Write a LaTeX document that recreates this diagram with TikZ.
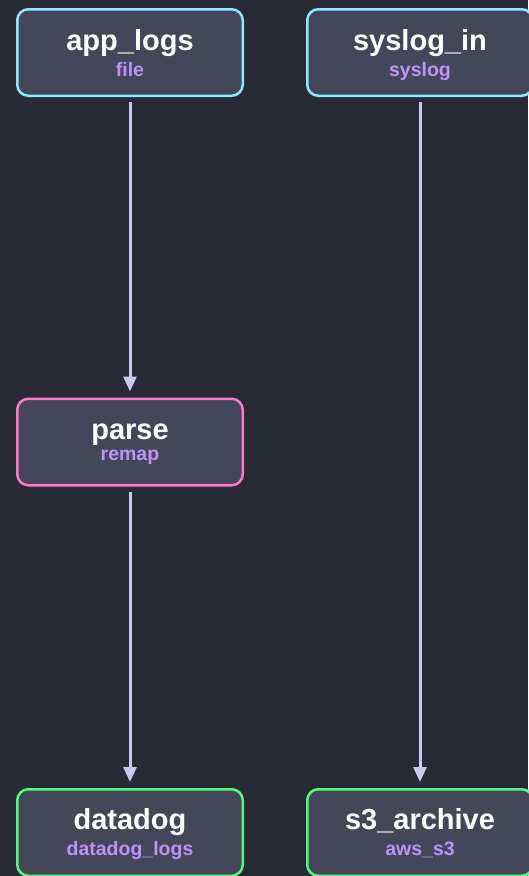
\documentclass[tikz,border=0pt]{standalone}
\usepackage{fontspec}
\setmainfont{Liberation Sans}
\usetikzlibrary{arrows.meta}

\definecolor{fons}{HTML}{282A36}
\definecolor{caixafons}{HTML}{44475A}
\definecolor{cian}{HTML}{8BE9FD}
\definecolor{rosa}{HTML}{FF79C6}
\definecolor{verd}{HTML}{50FA7B}
\definecolor{lila}{HTML}{BD93F9}
\definecolor{fletxacol}{HTML}{C9C9EC}

\tikzset{
    caixa/.style={
        rectangle,
        rounded corners=11pt,
        line width=2.5pt,
        fill=caixafons,
        minimum width=225.5pt,
        minimum height=86.5pt,
        inner sep=0pt
    },
    titol/.style={
        anchor=base,
        inner sep=0pt,
        text=white,
        font=\fontsize{29}{30}\selectfont\bfseries
    },
    subtitol/.style={
        anchor=base,
        inner sep=0pt,
        text=lila,
        font=\fontsize{19.5}{20}\selectfont\bfseries
    },
    fletxa/.style={
        -{Triangle[length=15pt,width=13pt]},
        line width=3pt,
        fletxacol,
        shorten <=5pt,
        shorten >=6pt
    }
}

\begin{document}
\begin{tikzpicture}[x=1pt, y=-1pt]

% Fons
\fill[fons] (0,0) rectangle (528,876);
\useasboundingbox (0,0) rectangle (528,876);

% Fonts
\node[caixa, draw=cian] (app) at (130,52.5) {};
\node[titol] (app-t) at (130,50) {app\_logs};
\node[subtitol] (app-s) at (130,76) {file};

\node[caixa, draw=cian] (syslog) at (420,52.5) {};
\node[titol] (syslog-t) at (420,50) {syslog\_in};
\node[subtitol] (syslog-s) at (420,76) {syslog};

% Transformacio
\node[caixa, draw=rosa] (parse) at (130,442) {};
\node[titol] (parse-t) at (130,439) {parse};
\node[subtitol] (parse-s) at (130,460) {remap};

% Destins
\node[caixa, draw=verd] (datadog) at (130,832.5) {};
\node[titol] (datadog-t) at (130,829) {datadog};
\node[subtitol] (datadog-s) at (130,855.5) {datadog\_logs};

\node[caixa, draw=verd] (s3) at (420,832.5) {};
\node[titol] (s3-t) at (420,829) {s3\_archive};
\node[subtitol] (s3-s) at (420,855.5) {aws\_s3};

% Fletxes
\draw[fletxa] (app) -- (parse);
\draw[fletxa] (parse) -- (datadog);
\draw[fletxa] (syslog) -- (s3);

\end{tikzpicture}
\end{document}
